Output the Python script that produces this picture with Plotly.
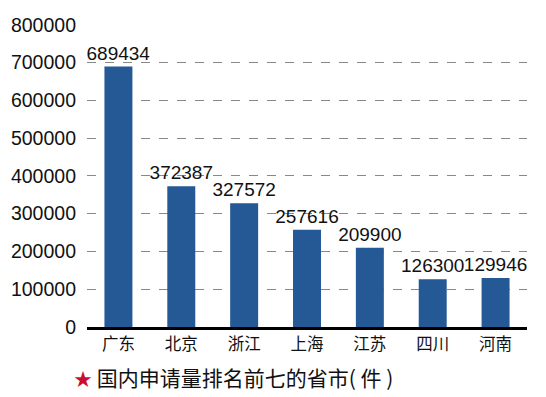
import plotly.graph_objects as go

provinces = ["广东", "北京", "浙江", "上海", "江苏", "四川", "河南"]
applications = [689434, 372387, 327572, 257616, 209900, 126300, 129946]
tick_values = [0, 100000, 200000, 300000, 400000, 500000, 600000, 700000, 800000]
tick_labels = [str(v) for v in tick_values]

font_num = "Liberation Sans, Arial, sans-serif"
font_cjk = "Noto Sans CJK SC, sans-serif"

fig = go.Figure(go.Bar(
    x=provinces, y=applications,
    marker=dict(color="#245995", line=dict(width=0)),
    text=[str(v) for v in applications], textposition="outside",
    constraintext="none",
    textfont=dict(family=font_num, size=19, color="#111"),
    cliponaxis=False, width=0.445,
))

# the page body adds an 8px margin, so the figure is sized to fit the window
fig.update_layout(
    width=538, height=389,
    margin=dict(l=79, r=19, t=16, b=70),
    paper_bgcolor="white", plot_bgcolor="white",
    showlegend=False,
    xaxis=dict(
        showline=True, linecolor="black", linewidth=3,
        tickfont=dict(family=font_cjk, size=16.5, color="#111"),
        ticks="", showgrid=False, automargin=False,
    ),
    yaxis=dict(
        range=[0, 802000], tickvals=tick_values, ticktext=tick_labels,
        tickfont=dict(family=font_num, size=19.5, color="#111"),
        showgrid=True, gridcolor="#888", griddash="dash", gridwidth=1,
        zeroline=False, showline=False, ticks="", ticklabelstandoff=10,
        automargin=False,
    ),
    annotations=[dict(
        xref="paper", yref="paper", x=-0.033, y=-0.165,
        xanchor="left", yanchor="middle", showarrow=False,
        text="<span style='color:#c8102e;font-size:18px'>★</span> 国内申请量排名前七的省市( 件 )",
        font=dict(family=font_cjk, size=21, color="#111"),
    )],
)

fig.write_html("out.html")
